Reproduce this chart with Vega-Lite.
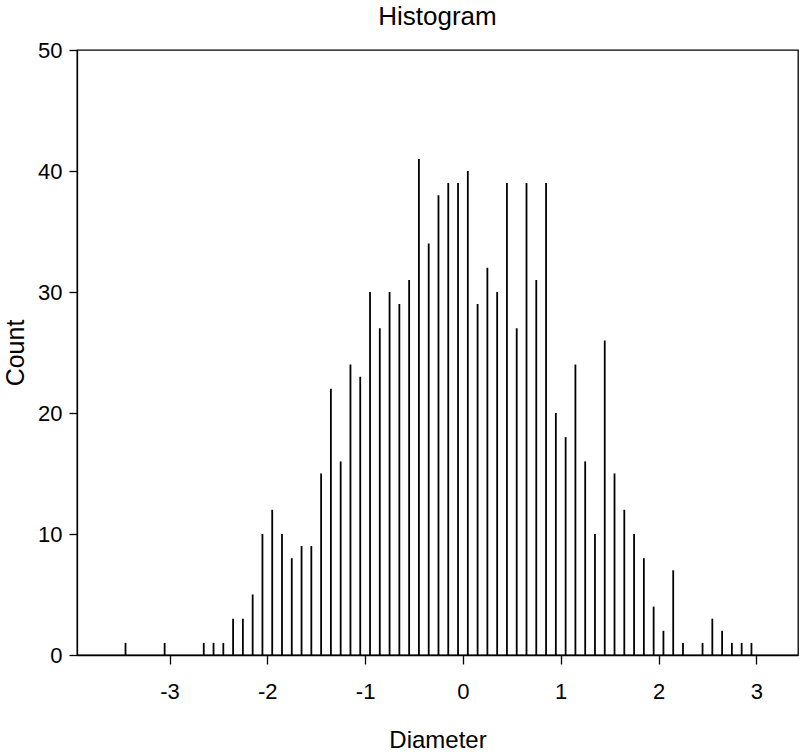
{
  "$schema": "https://vega.github.io/schema/vega-lite/v6.json",
  "autosize": "none",
  "width": 721,
  "height": 605,
  "padding": {"left": 77, "top": 50, "right": 2, "bottom": 99},
  "background": "white",
  "title": {"text": "Histogram", "fontSize": 26, "font": "Liberation Sans", "fontWeight": "normal", "color": "black", "offset": 9, "anchor": "middle"},
  "config": {
    "view": {"stroke": "black", "strokeWidth": 1.3},
    "font": "Liberation Sans"
  },
  "data": {"values": [
    {"Diameter": -3.45, "Count": 1},
    {"Diameter": -3.05, "Count": 1},
    {"Diameter": -2.65, "Count": 1},
    {"Diameter": -2.55, "Count": 1},
    {"Diameter": -2.45, "Count": 1},
    {"Diameter": -2.35, "Count": 3},
    {"Diameter": -2.25, "Count": 3},
    {"Diameter": -2.15, "Count": 5},
    {"Diameter": -2.05, "Count": 10},
    {"Diameter": -1.95, "Count": 12},
    {"Diameter": -1.85, "Count": 10},
    {"Diameter": -1.75, "Count": 8},
    {"Diameter": -1.65, "Count": 9},
    {"Diameter": -1.55, "Count": 9},
    {"Diameter": -1.45, "Count": 15},
    {"Diameter": -1.35, "Count": 22},
    {"Diameter": -1.25, "Count": 16},
    {"Diameter": -1.15, "Count": 24},
    {"Diameter": -1.05, "Count": 23},
    {"Diameter": -0.95, "Count": 30},
    {"Diameter": -0.85, "Count": 27},
    {"Diameter": -0.75, "Count": 30},
    {"Diameter": -0.65, "Count": 29},
    {"Diameter": -0.55, "Count": 31},
    {"Diameter": -0.45, "Count": 41},
    {"Diameter": -0.35, "Count": 34},
    {"Diameter": -0.25, "Count": 38},
    {"Diameter": -0.15, "Count": 39},
    {"Diameter": -0.05, "Count": 39},
    {"Diameter": 0.05, "Count": 40},
    {"Diameter": 0.15, "Count": 29},
    {"Diameter": 0.25, "Count": 32},
    {"Diameter": 0.35, "Count": 30},
    {"Diameter": 0.45, "Count": 39},
    {"Diameter": 0.55, "Count": 27},
    {"Diameter": 0.65, "Count": 39},
    {"Diameter": 0.75, "Count": 31},
    {"Diameter": 0.85, "Count": 39},
    {"Diameter": 0.95, "Count": 20},
    {"Diameter": 1.05, "Count": 18},
    {"Diameter": 1.15, "Count": 24},
    {"Diameter": 1.25, "Count": 16},
    {"Diameter": 1.35, "Count": 10},
    {"Diameter": 1.45, "Count": 26},
    {"Diameter": 1.55, "Count": 15},
    {"Diameter": 1.65, "Count": 12},
    {"Diameter": 1.75, "Count": 10},
    {"Diameter": 1.85, "Count": 8},
    {"Diameter": 1.95, "Count": 4},
    {"Diameter": 2.05, "Count": 2},
    {"Diameter": 2.15, "Count": 7},
    {"Diameter": 2.25, "Count": 1},
    {"Diameter": 2.45, "Count": 1},
    {"Diameter": 2.55, "Count": 3},
    {"Diameter": 2.65, "Count": 2},
    {"Diameter": 2.75, "Count": 1},
    {"Diameter": 2.85, "Count": 1},
    {"Diameter": 2.95, "Count": 1}
  ]},
  "mark": {"type": "rule", "color": "black", "strokeWidth": 1.8},
  "encoding": {
    "x": {
      "field": "Diameter", "type": "quantitative",
      "scale": {"domain": [-3.946, 3.426], "nice": false, "zero": false},
      "axis": {
        "values": [-3, -2, -1, 0, 1, 2, 3],
        "labelExpr": "'' + datum.value",
        "grid": false, "domainColor": "black", "domainWidth": 1.3,
        "tickColor": "black", "tickSize": 9, "tickWidth": 1.3,
        "labelFontSize": 22, "labelColor": "black", "labelPadding": 17,
        "title": "Diameter", "titleFontSize": 24, "titleFontWeight": "normal",
        "titleColor": "black", "titlePadding": 26
      }
    },
    "y": {
      "field": "Count", "type": "quantitative",
      "scale": {"domain": [0, 50], "nice": false},
      "axis": {
        "values": [0, 10, 20, 30, 40, 50],
        "grid": false, "domainColor": "black", "domainWidth": 1.3,
        "tickColor": "black", "tickSize": 8, "tickWidth": 1.3,
        "labelFontSize": 22, "labelColor": "black", "labelPadding": 7,
        "title": "Count", "titleFontSize": 25, "titleFontWeight": "normal",
        "titleColor": "black", "titlePadding": 9
      }
    },
    "y2": {"datum": 0}
  }
}
